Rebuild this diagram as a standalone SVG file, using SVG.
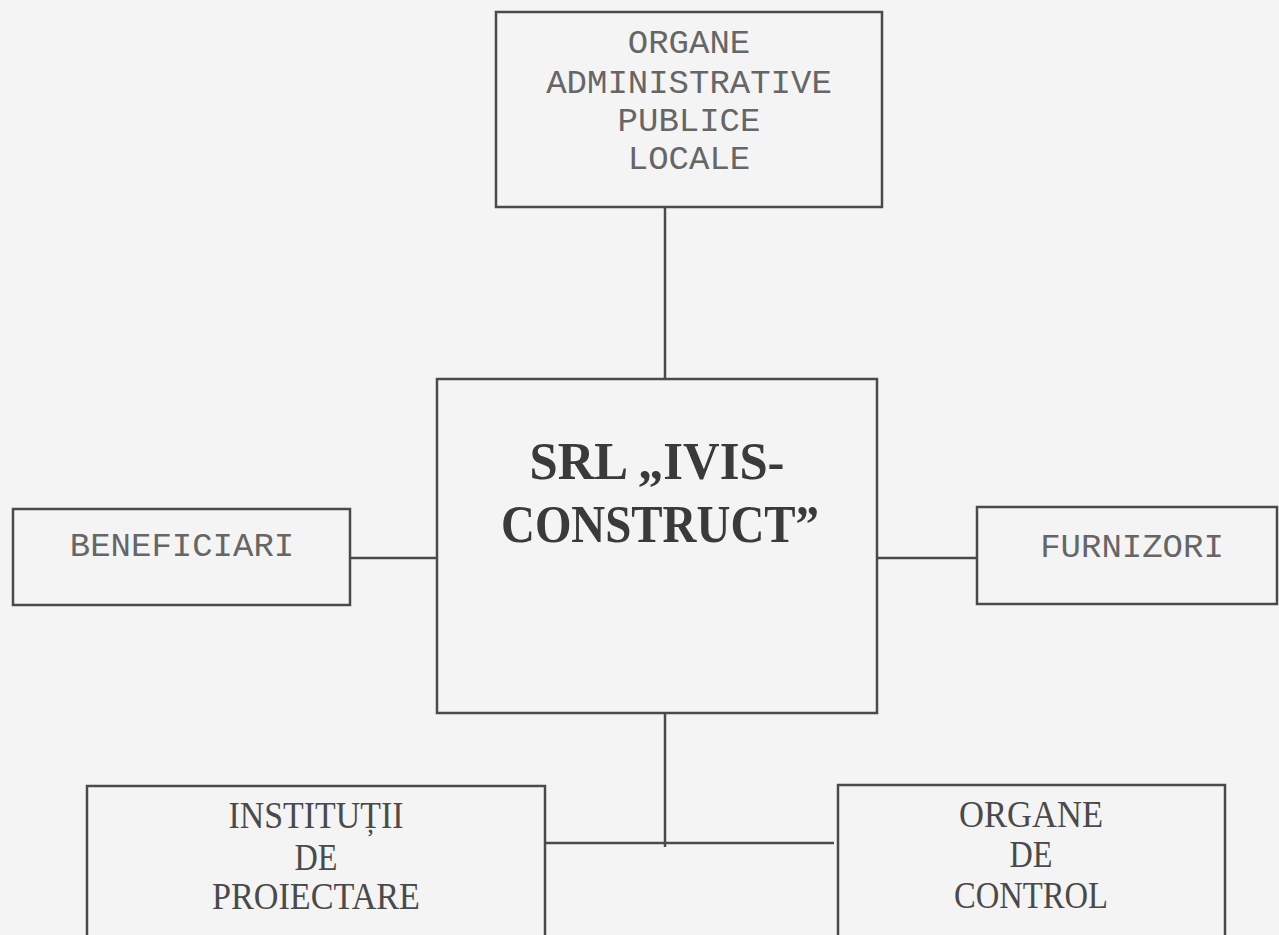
<svg xmlns="http://www.w3.org/2000/svg" width="1279" height="935" viewBox="0 0 1279 935">
<style>
.box{fill:none;stroke:#4a4a4a;stroke-width:2.5}
.con{fill:none;stroke:#4a4a4a;stroke-width:2.5}
.mono{font-family:"Liberation Mono","DejaVu Sans Mono",monospace;font-size:34px;fill:#666666;text-anchor:middle}
.serif{font-family:"Liberation Serif","Times New Roman",serif;font-size:38px;fill:#4a4a4a;text-anchor:middle}
.bold{font-family:"Liberation Serif","Times New Roman",serif;font-size:52px;font-weight:bold;fill:#3a3a3a;text-anchor:middle}
</style>
<rect x="0" y="0" width="1279" height="935" fill="#f4f4f4"/>
<g id="connectors">
<line class="con" x1="665" y1="207" x2="665" y2="379"/>
<line class="con" x1="350" y1="558" x2="437" y2="558"/>
<line class="con" x1="877" y1="558" x2="977" y2="558"/>
<line class="con" x1="665" y1="713" x2="665" y2="847"/>
<line class="con" x1="545" y1="843" x2="834" y2="843"/>
</g>
<g id="organe-administrative">
<rect class="box" x="496" y="12" width="386" height="195"/>
<text class="mono" font-size="35" x="689" y="53">ORGANE</text>
<text class="mono" font-size="35" x="689" y="93">ADMINISTRATIVE</text>
<text class="mono" font-size="35" x="689" y="131">PUBLICE</text>
<text class="mono" font-size="35" x="689" y="169">LOCALE</text>
</g>
<g id="srl">
<rect class="box" x="437" y="379" width="440" height="334"/>
<text class="bold" x="657" y="479" textLength="255" lengthAdjust="spacingAndGlyphs">SRL „IVIS-</text>
<text class="bold" x="660" y="542" textLength="318" lengthAdjust="spacingAndGlyphs">CONSTRUCT”</text>
</g>
<g id="beneficiari">
<rect class="box" x="13" y="509" width="337" height="96"/>
<text class="mono" x="182" y="556">BENEFICIARI</text>
</g>
<g id="furnizori">
<rect class="box" x="977" y="507" width="300" height="97"/>
<text class="mono" x="1132" y="557">FURNIZORI</text>
</g>
<g id="institutii">
<rect class="box" x="87" y="786" width="458" height="160"/>
<text class="serif" x="316" y="828" textLength="175" lengthAdjust="spacingAndGlyphs">INSTITUȚII</text>
<text class="serif" x="316" y="870" textLength="43" lengthAdjust="spacingAndGlyphs">DE</text>
<text class="serif" x="316" y="909" textLength="208" lengthAdjust="spacingAndGlyphs">PROIECTARE</text>
</g>
<g id="organe-control">
<rect class="box" x="838" y="785" width="387" height="160"/>
<text class="serif" x="1031" y="827" textLength="144" lengthAdjust="spacingAndGlyphs">ORGANE</text>
<text class="serif" x="1031" y="867" textLength="43" lengthAdjust="spacingAndGlyphs">DE</text>
<text class="serif" x="1031" y="908" textLength="154" lengthAdjust="spacingAndGlyphs">CONTROL</text>
</g>
</svg>
